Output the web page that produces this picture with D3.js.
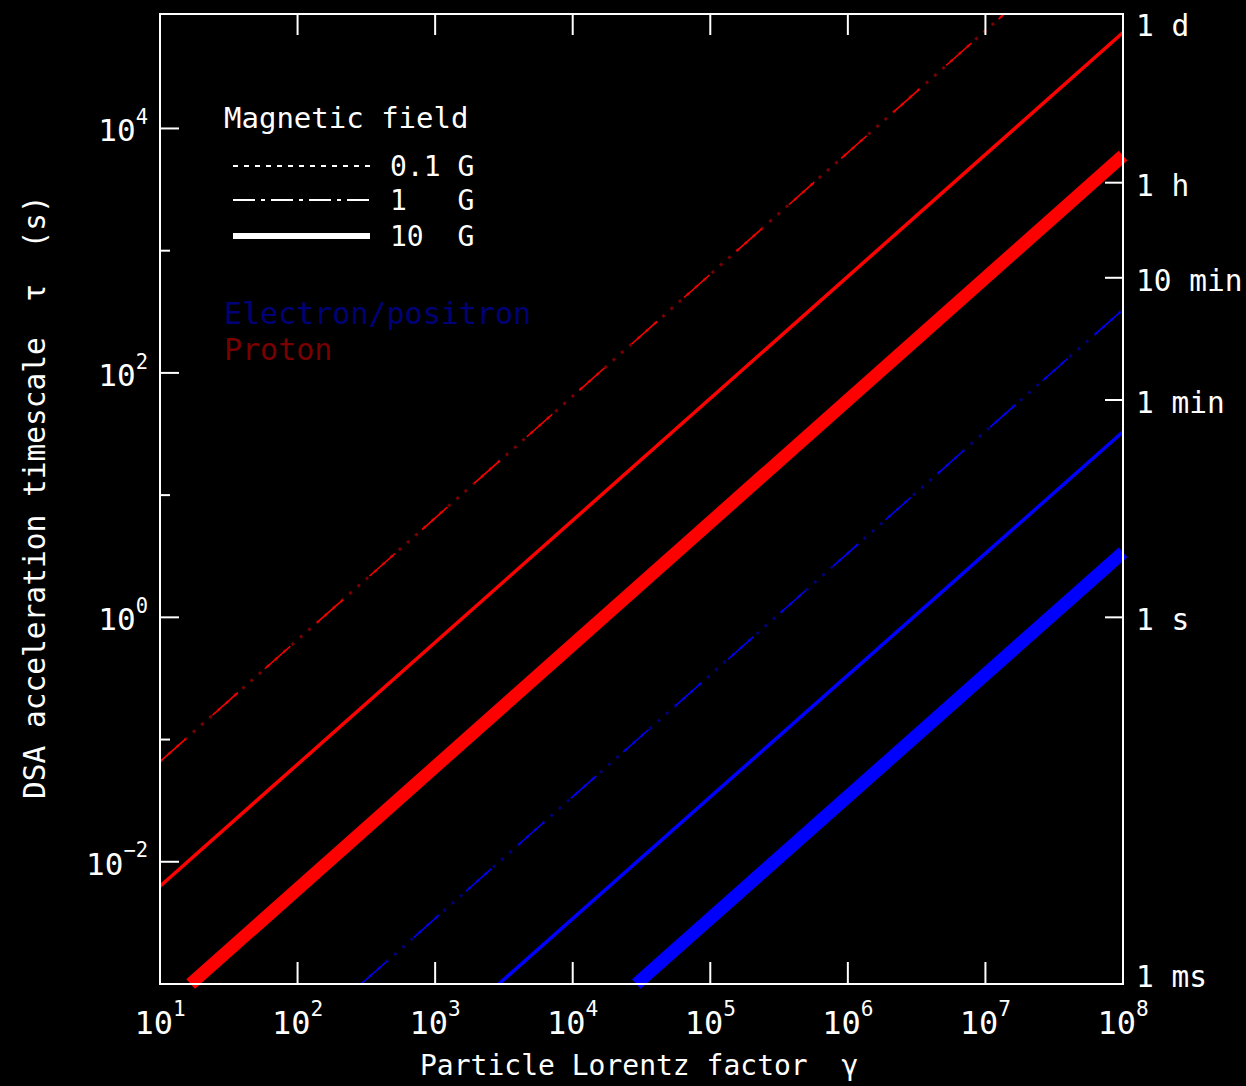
<!DOCTYPE html>
<html>
<head>
<meta charset="utf-8">
<script src="https://cdn.jsdelivr.net/npm/d3@7"></script>
<style>
  html, body { margin: 0; padding: 0; background: #000; }
  svg { display: block; }
  text { font-family: "DejaVu Sans Mono", "Liberation Mono", monospace; fill: #fff; white-space: pre; }
</style>
</head>
<body>
<div id="chart"></div>
<script>
// ---- data ----
var fieldLabels = ["0.1 G", "1   G", "10  G"];
var speciesLabels = ["Electron/positron", "Proton"];

// line end points (gamma, tau in s) for B = 0.1, 1, 10 G
var protonGamma   = [[10, 1.37e7], [10, 1e8], [16.7, 1e8]];
var protonTau     = [[0.066, 86400], [6.3e-3, 6.1e4], [1e-3, 6.0e3]];
var electronGamma = [[290, 1e8], [2900, 1e8], [29000, 1e8]];
var electronTau   = [[1e-3, 330], [1e-3, 33], [1e-3, 3.4]];

var xTickExp = [1, 2, 3, 4, 5, 6, 7, 8];
var yMajorExp = [-2, 0, 2, 4];
var yMinorExp = [-1, 1, 3];
var timeTicks = [86400, 3600, 600, 60, 1, 1e-3];
var timeLabels = ["1 d", "1 h", "10 min", "1 min", "1 s", "1 ms"];

(function(){
var
	width = 1246,
	height = 1086,
	xL = 160, xR = 1123, yT = 14, yB = 984,

	x = d3.scaleLog().domain([10, 1e8]).range([xL, xR]),
	y = d3.scaleLog().domain([1e-3, 86400]).range([yB, yT]),

	svg = d3.select("#chart").append("svg")
		.attr("width", width)
		.attr("height", height);

svg.append("rect").attr("width", width).attr("height", height).attr("fill", "#000");

// ---- curves ----
var line = d3.line().x(d => x(d[0])).y(d => y(d[1]));
var curves = svg.append("g");

function drawSpecies(gammas, taus, bright, dark){
	gammas.forEach(function(g, i){
		var pts = g.map((v, k) => [v, taus[i][k]]);
		if (i === 0) {
			curves.append("path").attr("d", line(pts))
				.attr("fill", "none").attr("stroke", dark)
				.attr("stroke-width", 3).attr("stroke-dasharray", "3,8");
			curves.append("path").attr("d", line(pts))
				.attr("fill", "none").attr("stroke", bright)
				.attr("stroke-width", 1.5).attr("stroke-dasharray", "34,36");
		} else if (i === 1) {
			curves.append("path").attr("d", line(pts))
				.attr("fill", "none").attr("stroke", bright)
				.attr("stroke-width", 3.5);
		} else {
			curves.append("path").attr("d", line(pts))
				.attr("fill", "none").attr("stroke", bright)
				.attr("stroke-width", 13).attr("stroke-linecap", "butt");
		}
	});
}
drawSpecies(protonGamma, protonTau, "#ff0000", "#780000");
drawSpecies(electronGamma, electronTau, "#0000ff", "#000078");

// ---- frame and ticks ----
var axes = svg.append("g").attr("stroke", "#fff").attr("stroke-width", 2);
axes.append("rect")
	.attr("x", xL).attr("y", yT)
	.attr("width", xR - xL).attr("height", yB - yT)
	.attr("fill", "none");

xTickExp.slice(1, -1).forEach(function(e){
	var xv = x(Math.pow(10, e));
	axes.append("line").attr("x1", xv).attr("x2", xv).attr("y1", yB).attr("y2", yB - 22);
	axes.append("line").attr("x1", xv).attr("x2", xv).attr("y1", yT).attr("y2", yT + 21);
});
yMajorExp.forEach(function(e){
	var yv = y(Math.pow(10, e));
	axes.append("line").attr("x1", xL).attr("x2", xL + 19).attr("y1", yv).attr("y2", yv);
});
yMinorExp.forEach(function(e){
	var yv = y(Math.pow(10, e));
	axes.append("line").attr("x1", xL).attr("x2", xL + 10).attr("y1", yv).attr("y2", yv);
});
timeTicks.forEach(function(t){
	if (t >= 86400 || t <= 1e-3) return;
	var yv = y(t);
	axes.append("line").attr("x1", xR).attr("x2", xR - 18).attr("y1", yv).attr("y2", yv);
});

// ---- tick labels ----
function powLabel(sel, e, size){
	sel.append("tspan").text("10").attr("font-size", size);
	sel.append("tspan").text(e < 0 ? "\u2212" + (-e) : String(e))
		.attr("font-size", size * 0.66).attr("dy", -size * 0.56);
}
xTickExp.forEach(function(e){
	var t = svg.append("text")
		.attr("x", x(Math.pow(10, e)))
		.attr("y", 1034)
		.attr("text-anchor", "middle");
	powLabel(t, e, 32);
});
yMajorExp.forEach(function(e){
	var t = svg.append("text")
		.attr("x", 148)
		.attr("y", y(Math.pow(10, e)) + 13)
		.attr("text-anchor", "end");
	powLabel(t, e, 31);
});
timeTicks.forEach(function(t, i){
	svg.append("text")
		.attr("x", 1136)
		.attr("y", Math.max(yT + 22, Math.min(yB + 3, y(t) + 13)))
		.attr("font-size", 29.5)
		.text(timeLabels[i]);
});

// ---- axis titles ----
svg.append("text")
	.attr("x", 420).attr("y", 1075)
	.attr("font-size", 28)
	.text("Particle Lorentz factor  \u03b3");
svg.append("text")
	.attr("transform", "translate(45,799) rotate(-90)")
	.attr("font-size", 29.5)
	.text("DSA acceleration timescale  \u03c4  (s)");

// ---- legend ----
var legend = svg.append("g");
legend.append("text").attr("x", 224).attr("y", 128).attr("font-size", 29).text("Magnetic field");
var legendY = [166, 200, 236];
var legendDash = ["5,6", "22,6,4,6", null];
var legendWidth = [2, 2, 6];
fieldLabels.forEach(function(lbl, i){
	legend.append("line")
		.attr("x1", 233).attr("x2", 370)
		.attr("y1", legendY[i]).attr("y2", legendY[i])
		.attr("stroke", "#fff").attr("stroke-width", legendWidth[i])
		.attr("stroke-dasharray", legendDash[i]);
	legend.append("text")
		.attr("x", 390).attr("y", legendY[i] + 10)
		.attr("font-size", 28)
		.text(lbl);
});
legend.append("text").attr("x", 224).attr("y", 324).attr("font-size", 30)
	.style("fill", "#000078").text(speciesLabels[0]);
legend.append("text").attr("x", 224).attr("y", 360).attr("font-size", 30)
	.style("fill", "#780000").text(speciesLabels[1]);
})();
</script>
</body>
</html>
